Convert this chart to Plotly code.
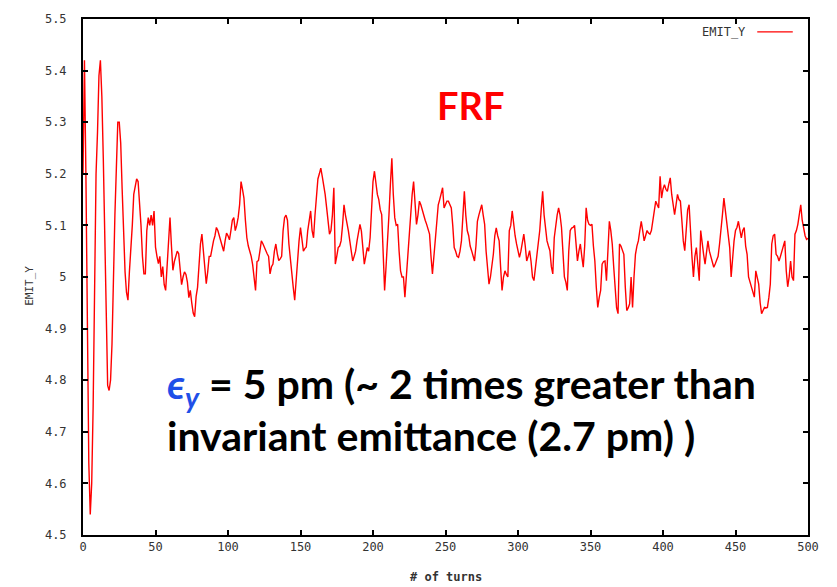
import plotly.graph_objects as go

# EMIT_Y per turn (turns 0..500)
emit_y = [
    5.20, 5.42, 5.20, 4.85, 4.64, 4.54, 4.60, 4.75, 5.00, 5.20,
    5.28, 5.39, 5.42, 5.35, 5.23, 5.08, 4.90, 4.79, 4.78, 4.80,
    4.87, 5.01, 5.12, 5.21, 5.30, 5.30, 5.26, 5.17, 5.08, 5.01,
    4.97, 4.955, 5.01, 5.05, 5.10, 5.16, 5.18, 5.19, 5.185, 5.15,
    5.10, 5.04, 5.006, 5.006, 5.09, 5.115, 5.10, 5.12, 5.10, 5.128,
    5.058, 5.04, 5.026, 5.04, 5.00, 5.02, 4.985, 4.974, 5.02, 5.07,
    5.115, 5.06, 5.013, 5.03, 5.04, 5.05, 5.045, 5.02, 4.985, 5.00,
    5.01, 5.005, 4.99, 4.96, 4.974, 4.95, 4.93, 4.923, 4.962, 4.98,
    5.03, 5.064, 5.083, 5.05, 5.02, 4.987, 5.01, 5.04, 5.04, 5.06,
    5.07, 5.08, 5.096, 5.09, 5.08, 5.07, 5.06, 5.05, 5.07, 5.085,
    5.08, 5.072, 5.09, 5.11, 5.115, 5.09, 5.10, 5.115, 5.14, 5.185,
    5.17, 5.153, 5.11, 5.076, 5.06, 5.05, 5.04, 5.024, 5.00, 4.974,
    5.03, 5.032, 5.05, 5.07, 5.065, 5.058, 5.05, 5.045, 5.04, 5.006,
    5.02, 5.025, 5.05, 5.064, 5.045, 5.032, 5.035, 5.04, 5.09, 5.115,
    5.12, 5.11, 5.064, 5.04, 5.013, 4.98, 4.955, 5.00, 5.04, 5.07,
    5.096, 5.07, 5.05, 5.055, 5.058, 5.09, 5.11, 5.128, 5.09, 5.076,
    5.12, 5.167, 5.19, 5.20, 5.211, 5.195, 5.18, 5.16, 5.135, 5.11,
    5.083, 5.09, 5.12, 5.173, 5.025, 5.04, 5.057, 5.06, 5.07, 5.10,
    5.14, 5.12, 5.108, 5.09, 5.07, 5.05, 5.031, 5.04, 5.05, 5.07,
    5.09, 5.102, 5.089, 5.06, 5.025, 5.04, 5.057, 5.05, 5.076, 5.13,
    5.185, 5.205, 5.18, 5.16, 5.15, 5.13, 5.121, 5.05, 4.974, 5.02,
    5.064, 5.12, 5.18, 5.23, 5.16, 5.115, 5.10, 5.102, 5.05, 5.012,
    5.00, 5.00, 4.961, 5.00, 5.038, 5.08, 5.128, 5.16, 5.185, 5.14,
    5.102, 5.12, 5.147, 5.14, 5.128, 5.12, 5.11, 5.102, 5.09, 5.083,
    5.04, 5.006, 5.04, 5.07, 5.10, 5.14, 5.15, 5.16, 5.173, 5.134,
    5.14, 5.147, 5.147, 5.14, 5.134, 5.10, 5.057, 5.05, 5.04, 5.038,
    5.05, 5.07, 5.12, 5.166, 5.12, 5.09, 5.08, 5.06, 5.051, 5.04,
    5.031, 5.06, 5.108, 5.12, 5.13, 5.14, 5.12, 5.102, 5.05, 5.012,
    4.986, 5.00, 5.02, 5.044, 5.08, 5.095, 5.08, 5.07, 5.02, 4.974,
    5.00, 5.012, 5.005, 5.00, 5.09, 5.10, 5.128, 5.10, 5.08, 5.064,
    5.05, 5.038, 5.05, 5.07, 5.083, 5.06, 5.031, 5.04, 5.051, 5.03,
    5.00, 4.993, 5.02, 5.044, 5.06, 5.09, 5.13, 5.166, 5.12, 5.09,
    5.07, 5.06, 5.051, 5.02, 5.006, 5.076, 5.10, 5.12, 5.134, 5.12,
    5.096, 5.05, 5.00, 4.99, 4.974, 5.05, 5.09, 5.095, 5.096, 5.10,
    5.057, 5.031, 5.05, 5.064, 5.04, 5.019, 5.06, 5.134, 5.11, 5.102,
    5.10, 5.102, 5.06, 5.031, 4.98, 4.941, 4.96, 4.974, 5.025, 5.03,
    5.031, 4.993, 5.05, 5.108, 5.09, 5.064, 5.02, 4.974, 4.94, 4.929,
    5.064, 5.06, 5.05, 5.044, 4.98, 4.935, 4.94, 4.948, 5.00, 4.941,
    5.00, 5.044, 5.06, 5.07, 5.09, 5.108, 5.09, 5.07, 5.08, 5.09,
    5.085, 5.083, 5.09, 5.11, 5.121, 5.147, 5.14, 5.134, 5.195, 5.153,
    5.17, 5.179, 5.17, 5.166, 5.18, 5.192, 5.16, 5.134, 5.121, 5.14,
    5.16, 5.15, 5.147, 5.11, 5.07, 5.051, 5.09, 5.13, 5.14, 5.08,
    5.038, 5.00, 5.04, 5.057, 5.02, 4.993, 5.09, 5.06, 5.044, 5.025,
    5.05, 5.07, 5.05, 5.038, 5.03, 5.019, 5.025, 5.031, 5.04, 5.064,
    5.10, 5.121, 5.153, 5.13, 5.108, 5.08, 5.057, 5.00, 5.04, 5.07,
    5.09, 5.096, 5.108, 5.09, 5.076, 5.09, 5.096, 5.06, 5.044, 5.00,
    4.99, 4.981, 4.97, 4.961, 5.012, 5.00, 4.986, 4.95, 4.929, 4.935,
    4.941, 4.94, 4.941, 4.96, 4.986, 5.064, 5.08, 5.083, 5.044, 5.04,
    5.031, 5.04, 5.051, 5.06, 5.07, 5.012, 4.981, 5.00, 5.031, 5.00,
    4.993, 5.083, 5.09, 5.102, 5.12, 5.14, 5.11, 5.09, 5.08, 5.073,
    5.075,
]
turns = list(range(len(emit_y)))

series_name = "EMIT_Y"
x_title = "# of turns"
y_title = "EMIT_Y"
x_range = [0, 500]
y_range = [4.5, 5.5]

tick_font = dict(family="DejaVu Sans Mono", size=12, color="#333333")

fig = go.Figure()
fig.add_trace(go.Scatter(
    x=turns, y=emit_y, mode="lines", name=series_name,
    line=dict(color="#ff0000", width=1.4), showlegend=False,
))

axis_common = dict(
    showgrid=False, zeroline=False, showline=True, linecolor="black",
    linewidth=2, mirror="ticks", ticks="inside", ticklen=5, tickwidth=2,
    tickcolor="black", tickfont=tick_font,
)
fig.update_xaxes(range=x_range, dtick=50, tick0=0, **axis_common)
fig.update_yaxes(range=y_range, dtick=0.1, tick0=4.5, ticklabelstandoff=12,
                 **axis_common)

annotations = [
    dict(text="<b>FRF</b>", x=0.534, y=0.833, xref="paper", yref="paper",
         showarrow=False, font=dict(family="Lato", size=38, color="#ff0000"),
         xanchor="center", yanchor="middle"),
    dict(text="<b><span style='color:#1f4fe8'><i>ϵ</i><sub><i>y</i></sub></span> = 5 pm (~ 2 times greater than</b>",
         x=0.113, y=0.287, xref="paper", yref="paper", showarrow=False,
         font=dict(family="Lato", size=41, color="black"),
         xanchor="left", yanchor="middle"),
    dict(text="<b>invariant emittance (2.7 pm) )</b>",
         x=0.113, y=0.193, xref="paper", yref="paper", showarrow=False,
         font=dict(family="Lato", size=41, color="black"),
         xanchor="left", yanchor="middle"),
    dict(text=series_name, x=0.917, y=0.975, xref="paper", yref="paper",
         showarrow=False, font=tick_font, xanchor="right", yanchor="middle"),
    dict(text=y_title, x=-0.073, y=0.483, xref="paper", yref="paper",
         showarrow=False, textangle=-90,
         font=dict(family="DejaVu Sans Mono", size=11, color="#333333"),
         xanchor="center", yanchor="middle"),
    dict(text="<b>" + x_title + "</b>", x=0.5, y=-0.082, xref="paper", yref="paper",
         showarrow=False, font=dict(family="DejaVu Sans Mono", size=12, color="#333333"),
         xanchor="center", yanchor="middle"),
]

fig.update_layout(
    width=837, height=587,
    margin=dict(l=83, r=29, t=13, b=52),
    paper_bgcolor="white", plot_bgcolor="white",
    annotations=annotations,
    shapes=[dict(type="line", xref="paper", yref="paper",
                 x0=0.930, x1=0.979, y0=0.975, y1=0.975,
                 line=dict(color="#ff0000", width=1.3))],
)

fig.write_html("out.html")
